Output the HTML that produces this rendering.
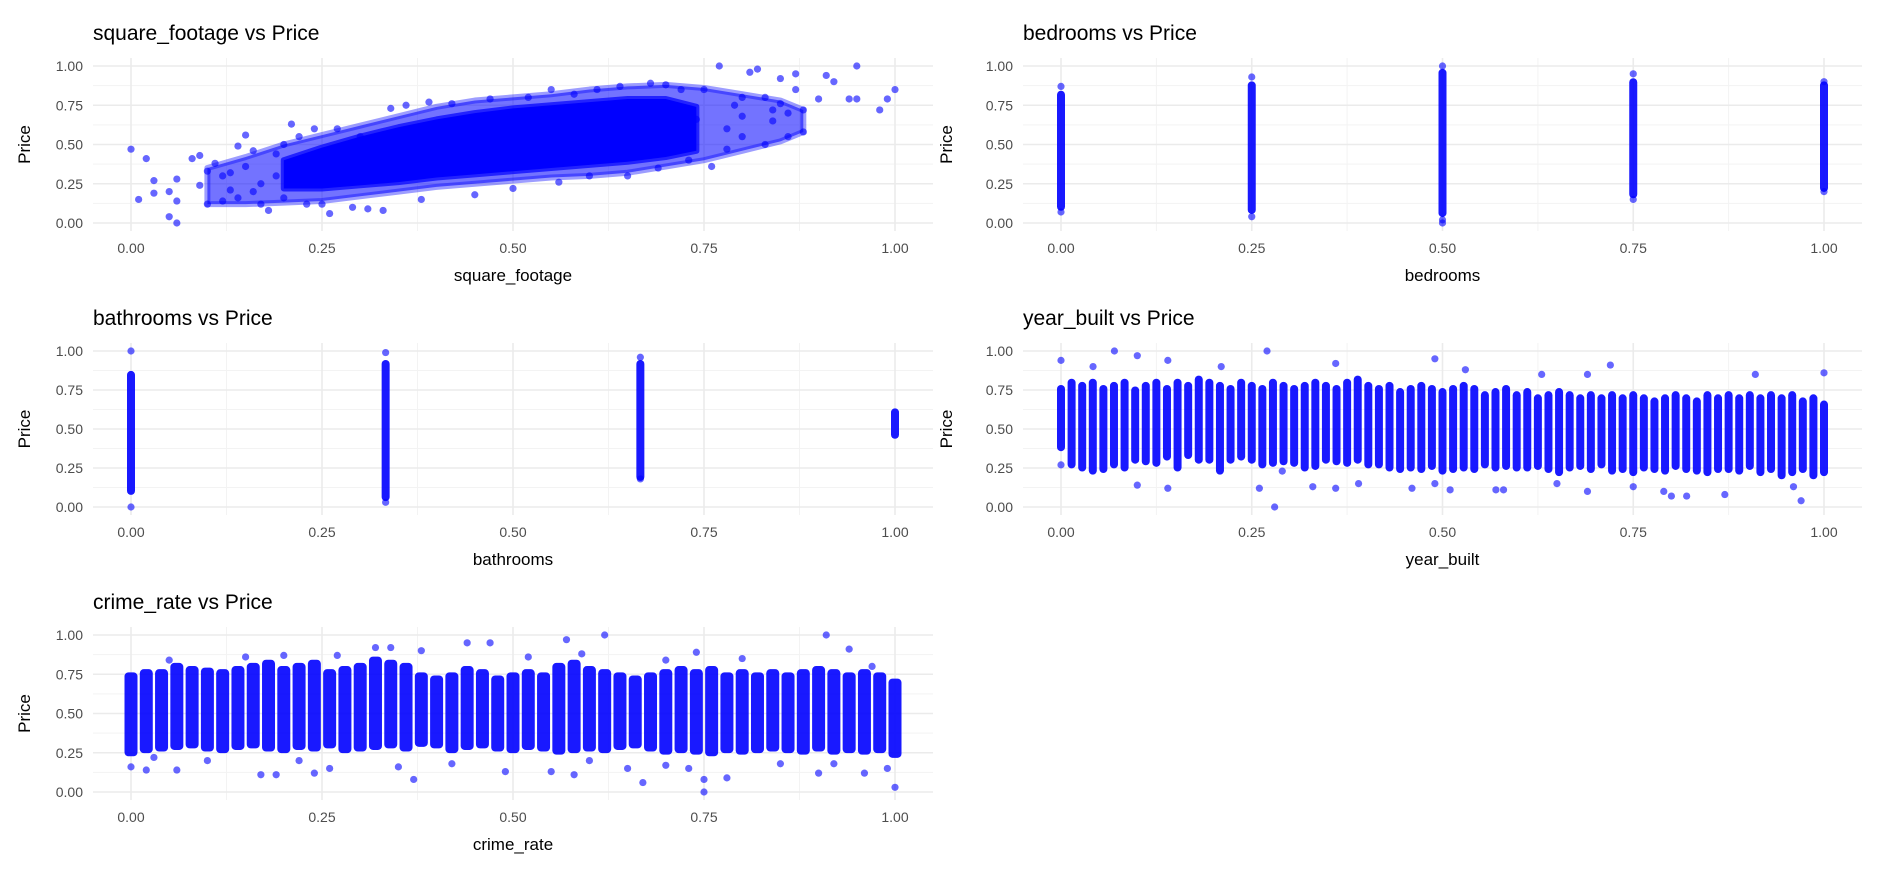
<!DOCTYPE html>
<html><head><meta charset="utf-8"><style>
html,body{margin:0;padding:0;background:#fff;}
svg{display:block;font-family:"Liberation Sans",Arial,sans-serif;}
</style></head><body>
<svg id="chart" width="1878" height="876" viewBox="0 0 1878 876"></svg>
<script>
// ---------- data ----------
const panelTitles = ["square_footage vs Price","bedrooms vs Price","bathrooms vs Price","year_built vs Price","crime_rate vs Price"];
const panelVars = ["square_footage","bedrooms","bathrooms","year_built","crime_rate"];
const tickValues = [0,0.25,0.5,0.75,1];
const tickLabels = ["0.00","0.25","0.50","0.75","1.00"];

// square_footage: outer (sparser) cloud, inner dense core, scattered points
const sqOuterX  = [0.10,0.15,0.20,0.25,0.30,0.35,0.40,0.45,0.50,0.55,0.60,0.65,0.70,0.75,0.80,0.85,0.88];
const sqOuterLo = [0.12,0.12,0.13,0.14,0.17,0.20,0.23,0.25,0.27,0.29,0.30,0.32,0.36,0.40,0.46,0.52,0.58];
const sqOuterHi = [0.35,0.42,0.50,0.56,0.62,0.68,0.74,0.78,0.80,0.82,0.85,0.87,0.88,0.86,0.82,0.78,0.72];
const sqCoreX  = [0.20,0.25,0.30,0.35,0.40,0.45,0.50,0.55,0.60,0.65,0.70,0.74];
const sqCoreLo = [0.22,0.22,0.24,0.26,0.29,0.31,0.33,0.35,0.37,0.39,0.42,0.46];
const sqCoreHi = [0.40,0.48,0.55,0.61,0.66,0.70,0.73,0.75,0.77,0.79,0.79,0.74];
const sqPts = [[0,0.47],[0.01,0.15],[0.02,0.41],[0.03,0.27],[0.03,0.19],[0.05,0.04],[0.05,0.20],[0.06,0.0],[0.06,0.14],[0.06,0.28],[0.08,0.41],[0.09,0.43],[0.09,0.24],[0.1,0.12],[0.1,0.33],[0.11,0.38],[0.12,0.14],[0.13,0.21],[0.14,0.49],[0.15,0.56],[0.16,0.46],[0.17,0.12],[0.18,0.08],[0.19,0.44],[0.2,0.16],[0.21,0.63],[0.22,0.55],[0.24,0.6],[0.25,0.12],[0.26,0.06],[0.27,0.6],[0.29,0.1],[0.3,0.55],[0.31,0.09],[0.33,0.08],[0.34,0.73],[0.36,0.75],[0.38,0.15],[0.39,0.77],[0.42,0.76],[0.45,0.18],[0.47,0.79],[0.5,0.22],[0.52,0.8],[0.55,0.85],[0.56,0.26],[0.58,0.82],[0.6,0.3],[0.61,0.85],[0.64,0.87],[0.65,0.3],[0.68,0.89],[0.69,0.35],[0.7,0.88],[0.72,0.85],[0.73,0.4],[0.75,0.85],[0.76,0.36],[0.77,1.0],[0.78,0.47],[0.79,0.75],[0.8,0.8],[0.81,0.96],[0.82,0.98],[0.83,0.5],[0.83,0.8],[0.84,0.65],[0.85,0.92],[0.85,0.76],[0.86,0.55],[0.86,0.7],[0.87,0.95],[0.87,0.85],[0.88,0.58],[0.88,0.72],[0.9,0.79],[0.91,0.94],[0.92,0.9],[0.94,0.79],[0.95,1.0],[0.95,0.79],[0.98,0.72],[0.99,0.79],[1.0,0.85],[0.8,0.55],[0.78,0.6],[0.74,0.66],[0.8,0.68],[0.84,0.72],[0.12,0.3],[0.14,0.16],[0.15,0.36],[0.17,0.25],[0.19,0.3],[0.2,0.5],[0.23,0.12],[0.13,0.32],[0.16,0.2]];

// bedrooms strips
const bedX  = [0,0.25,0.5,0.75,1];
const bedLo = [0.10,0.08,0.06,0.18,0.22];
const bedHi = [0.82,0.88,0.96,0.90,0.88];
const bedPts = [[0,0.07],[0,0.87],[0.25,0.04],[0.25,0.93],[0.5,0.0],[0.5,0.02],[0.5,1.0],[0.75,0.15],[0.75,0.95],[1,0.2],[1,0.9]];

// bathrooms strips
const bathX  = [0,0.3333,0.6667,1];
const bathLo = [0.10,0.06,0.19,0.46];
const bathHi = [0.85,0.92,0.92,0.61];
const bathPts = [[0,0.0],[0,1.0],[0.3333,0.03],[0.3333,0.99],[0.6667,0.18],[0.6667,0.96]];

// year_built columns (73 levels)
const yrLo = [0.38,0.27,0.25,0.23,0.24,0.27,0.25,0.30,0.29,0.28,0.32,0.25,0.33,0.30,0.30,0.23,0.30,0.32,0.30,0.27,0.28,0.29,0.28,0.25,0.26,0.30,0.29,0.28,0.30,0.27,0.27,0.25,0.24,0.25,0.24,0.26,0.23,0.24,0.25,0.24,0.27,0.25,0.26,0.25,0.25,0.26,0.24,0.22,0.25,0.26,0.24,0.27,0.23,0.24,0.22,0.25,0.24,0.23,0.26,0.24,0.23,0.22,0.24,0.24,0.23,0.26,0.22,0.24,0.20,0.22,0.24,0.20,0.22];
const yrHi = [0.76,0.80,0.78,0.80,0.76,0.78,0.80,0.75,0.78,0.80,0.76,0.80,0.78,0.82,0.80,0.78,0.76,0.80,0.78,0.76,0.80,0.78,0.76,0.78,0.80,0.78,0.76,0.80,0.82,0.78,0.76,0.78,0.74,0.76,0.78,0.76,0.74,0.76,0.78,0.76,0.72,0.74,0.76,0.72,0.74,0.70,0.72,0.74,0.72,0.70,0.72,0.70,0.72,0.70,0.72,0.70,0.68,0.70,0.72,0.70,0.68,0.72,0.70,0.72,0.70,0.72,0.70,0.72,0.70,0.72,0.68,0.70,0.66];
const yrPts = [[0,0.94],[0,0.27],[0.042,0.9],[0.07,1.0],[0.1,0.97],[0.1,0.14],[0.14,0.94],[0.14,0.12],[0.21,0.9],[0.26,0.12],[0.27,1.0],[0.28,0.0],[0.29,0.23],[0.33,0.13],[0.36,0.92],[0.36,0.12],[0.39,0.15],[0.46,0.12],[0.49,0.95],[0.49,0.15],[0.51,0.11],[0.53,0.88],[0.57,0.11],[0.58,0.11],[0.63,0.85],[0.65,0.15],[0.69,0.85],[0.69,0.1],[0.72,0.91],[0.75,0.13],[0.79,0.1],[0.8,0.07],[0.82,0.07],[0.87,0.08],[0.91,0.85],[0.97,0.04],[1,0.86],[0.96,0.13]];

// crime_rate columns
const crX  = [0,0.02,0.04,0.06,0.08,0.1,0.12,0.14,0.16,0.18,0.2,0.22,0.24,0.26,0.28,0.3,0.32,0.34,0.36,0.38,0.4,0.42,0.44,0.46,0.48,0.5,0.52,0.54,0.56,0.58,0.6,0.62,0.64,0.66,0.68,0.7,0.72,0.74,0.76,0.78,0.8,0.82,0.84,0.86,0.88,0.9,0.92,0.94,0.96,0.98,1];
const crLo = [0.25,0.27,0.28,0.29,0.30,0.28,0.27,0.29,0.30,0.28,0.27,0.29,0.28,0.30,0.27,0.28,0.29,0.30,0.28,0.31,0.30,0.27,0.29,0.30,0.28,0.27,0.29,0.28,0.26,0.27,0.28,0.27,0.29,0.30,0.28,0.26,0.27,0.26,0.25,0.27,0.26,0.27,0.28,0.27,0.26,0.28,0.26,0.27,0.26,0.27,0.24];
const crHi = [0.74,0.76,0.76,0.80,0.78,0.77,0.76,0.78,0.80,0.82,0.78,0.80,0.82,0.76,0.78,0.80,0.84,0.82,0.80,0.74,0.72,0.74,0.78,0.76,0.72,0.74,0.76,0.74,0.80,0.82,0.78,0.76,0.74,0.72,0.74,0.76,0.78,0.76,0.78,0.74,0.76,0.74,0.76,0.74,0.76,0.78,0.76,0.74,0.76,0.74,0.70];
const crPts = [[0,0.16],[0.02,0.14],[0.06,0.14],[0.17,0.11],[0.19,0.11],[0.24,0.12],[0.32,0.92],[0.34,0.92],[0.37,0.08],[0.38,0.9],[0.44,0.95],[0.47,0.95],[0.49,0.13],[0.55,0.13],[0.57,0.97],[0.58,0.11],[0.62,1.0],[0.67,0.06],[0.74,0.89],[0.75,0.0],[0.75,0.08],[0.78,0.09],[0.91,1.0],[0.94,0.91],[0.96,0.12],[1,0.03],[0.9,0.12],[0.03,0.22],[0.1,0.2],[0.22,0.2],[0.26,0.15],[0.35,0.16],[0.42,0.18],[0.6,0.2],[0.65,0.15],[0.7,0.17],[0.73,0.15],[0.85,0.18],[0.92,0.18],[0.99,0.15],[0.05,0.84],[0.15,0.86],[0.2,0.87],[0.27,0.87],[0.52,0.86],[0.59,0.88],[0.7,0.84],[0.8,0.85],[0.97,0.8]];

// ---------- layout ----------
const NS="http://www.w3.org/2000/svg";
const svg=document.getElementById('chart');
function mk(tag,attrs,parent){const e=document.createElementNS(NS,tag);for(const k in attrs)e.setAttribute(k,attrs[k]);(parent||svg).appendChild(e);return e;}
const panels=[
 {x0:131,x1:895,y0:223,y1:66,left:93,right:933,ylabX:83,ytitleX:30},
 {x0:1061,x1:1824,y0:223,y1:66,left:1023,right:1862,ylabX:1013,ytitleX:952},
 {x0:131,x1:895,y0:507,y1:351,left:93,right:933,ylabX:83,ytitleX:30},
 {x0:1061,x1:1824,y0:507,y1:351,left:1023,right:1862,ylabX:1013,ytitleX:952},
 {x0:131,x1:895,y0:792,y1:635,left:93,right:933,ylabX:83,ytitleX:30}
];
const BLUE="#0000ff";
function sx(p,v){return p.x0+v*(p.x1-p.x0);}
function sy(p,v){return p.y0-v*(p.y0-p.y1);}

panels.forEach((p,i)=>{
  const g=mk('g',{});
  
  
  const top=p.y1-8,bot=p.y0+8;
  [0.125,0.375,0.625,0.875].forEach(v=>{
    mk('line',{x1:sx(p,v),x2:sx(p,v),y1:top,y2:bot,stroke:'#f3f3f3','stroke-width':1},g);
    mk('line',{x1:p.left,x2:p.right,y1:sy(p,v),y2:sy(p,v),stroke:'#f3f3f3','stroke-width':1},g);
  });
  tickValues.forEach((v,k)=>{
    const gx=mk('line',{x1:sx(p,v),x2:sx(p,v),y1:top,y2:bot,stroke:'#ebebeb','stroke-width':1.6},g);
    
    
    const gy=mk('line',{x1:p.left,x2:p.right,y1:sy(p,v),y2:sy(p,v),stroke:'#ebebeb','stroke-width':1.6},g);
    
    
    const tx=mk('text',{x:sx(p,v),y:p.y0+30,'text-anchor':'middle','font-size':14,fill:'#4d4d4d'},g);
    tx.textContent=tickLabels[k];
    
    
    const ty=mk('text',{x:p.ylabX,y:sy(p,v)+5,'text-anchor':'end','font-size':14,fill:'#4d4d4d'},g);
    ty.textContent=tickLabels[k];
    
    
  });
  const t=mk('text',{x:p.left,y:p.y1-26,'font-size':21,fill:'#000'},g);
  t.textContent=panelTitles[i];
  
  
  const xt=mk('text',{x:(p.x0+p.x1)/2,y:p.y0+58,'text-anchor':'middle','font-size':17,fill:'#000'},g);
  xt.textContent=panelVars[i];
  
  
  const cy=(p.y0+p.y1)/2;
  const yt=mk('text',{x:p.ytitleX,y:cy,'text-anchor':'middle','font-size':17,fill:'#000',transform:'rotate(-90 '+p.ytitleX+' '+cy+')'},g);
  yt.textContent='Price';
  
  
});

function strip(p,x,lo,hi,w){
  const r=mk('rect',{x:sx(p,x)-w/2,y:sy(p,hi)-3.5,width:w,height:sy(p,lo)-sy(p,hi)+7,rx:Math.min(w/2,4),fill:BLUE,'fill-opacity':0.9});
  
  
}
function dot(p,x,y){
  const c=mk('circle',{cx:sx(p,x),cy:sy(p,y),r:3.6,fill:BLUE,'fill-opacity':0.6});
  
  
}
function band(p,xs,lo,hi,op,name){
  let d='';
  xs.forEach((x,k)=>{d+=(k?'L':'M')+sx(p,x)+','+sy(p,hi[k]);});
  for(let k=xs.length-1;k>=0;k--)d+='L'+sx(p,xs[k])+','+sy(p,lo[k]);
  const b=mk('path',{d:d+'Z',fill:BLUE,'fill-opacity':op,stroke:BLUE,'stroke-width':6,'stroke-linejoin':'round','stroke-opacity':op*0.7});
  
  
}
{
  const p=panels[0];
  band(p,sqOuterX,sqOuterLo,sqOuterHi,0.55,'sparse-point-cloud');
  band(p,sqCoreX,sqCoreLo,sqCoreHi,1,'dense-point-cloud');
  sqPts.forEach(q=>dot(p,q[0],q[1]));
}
bedX.forEach((x,k)=>strip(panels[1],x,bedLo[k],bedHi[k],8));
bedPts.forEach(q=>dot(panels[1],q[0],q[1]));
bathX.forEach((x,k)=>strip(panels[2],x,bathLo[k],bathHi[k],8));
bathPts.forEach(q=>dot(panels[2],q[0],q[1]));
yrLo.forEach((lo,k)=>strip(panels[3],k/(yrLo.length-1),lo,yrHi[k],8));
yrPts.forEach(q=>dot(panels[3],q[0],q[1]));
crX.forEach((x,k)=>strip(panels[4],x,crLo[k],crHi[k],13));
crPts.forEach(q=>dot(panels[4],q[0],q[1]));
</script>
</body></html>
